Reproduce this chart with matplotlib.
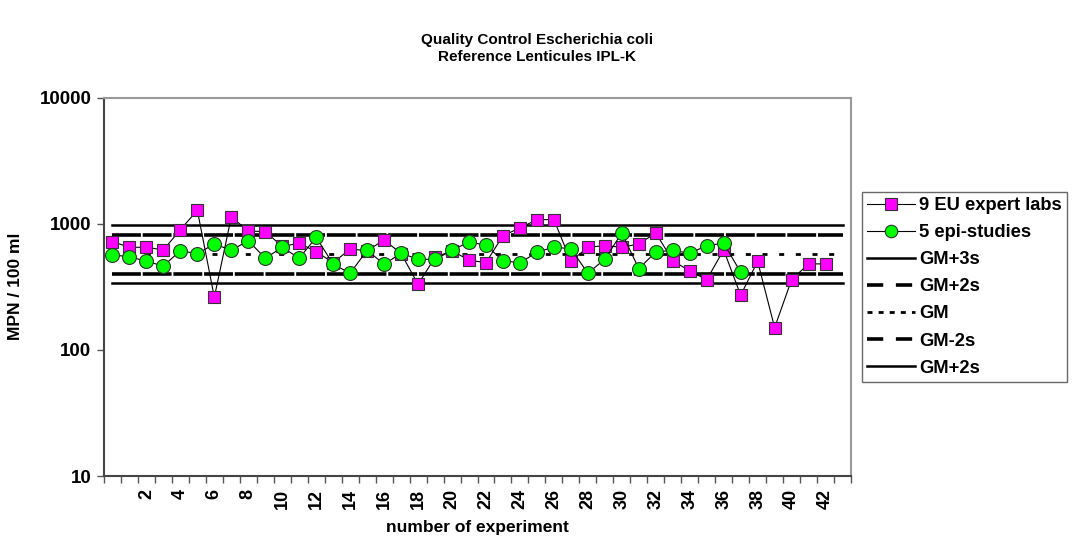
import numpy as np
import matplotlib
matplotlib.use("Agg")
import matplotlib.pyplot as plt
from matplotlib.lines import Line2D

# Werte
eu_labs = [720, 650, 650, 619, 896, 1277, 261, 1130, 875, 865,
           660, 700, 600, 490, 630, 610, 743, 580, 331, 540,
           610, 513, 491, 804, 925, 1077, 1077, 503, 650, 670,
           650, 690, 844, 509, 421, 360, 619, 271, 503, 150,
           360, 480, 480]
epi_studies = [565, 547, 503, 462, 611, 578, 690, 615, 733, 532,
               650, 532, 780, 477, 405, 615, 477, 582, 523, 520,
               615, 716, 675, 509, 489, 593, 653, 631, 405, 523,
               844, 440, 597, 615, 582, 670, 700, 412]
n_categories = 44
tick_labels = ['2', '4', '6', '8', '10', '12', '14', '16', '18', '20', '22',
               '24', '26', '28', '30', '32', '34', '36', '38', '40', '42']
tick_pos = [2, 4, 6, 8, 10, 12, 14, 16, 18, 20, 22,
            24, 26, 28, 30, 32, 34, 36, 38, 40, 42]

gm = 572
gm_p3s = 977
gm_p2s = 817
gm_m2s = 401
gm_m3s = 336

plt.rcParams['font.family'] = ['Liberation Sans', 'DejaVu Sans']
plt.rcParams['font.weight'] = 'bold'

fig = plt.figure(figsize=(10.74, 5.45), dpi=100)
ax = fig.add_axes([0.0968, 0.1266, 0.6956, 0.6945])

x_ref = [0, n_categories - 1]

ax.plot(x_ref, [gm_p3s, gm_p3s], color='black', lw=1.8, zorder=1)
ax.plot(x_ref, [gm_p2s, gm_p2s], color='black', lw=2.6, linestyle=(0, (8, 0.5)), zorder=1)
ax.plot(x_ref, [gm, gm], color='black', lw=2.0, linestyle=(0, (1.8, 4.2)), zorder=1)
ax.plot(x_ref, [gm_m2s, gm_m2s], color='black', lw=2.6, linestyle=(0, (8, 0.5)), zorder=1)
ax.plot(x_ref, [gm_m3s, gm_m3s], color='black', lw=1.8, zorder=1)

ax.plot(np.arange(len(eu_labs)), eu_labs, color='black', lw=0.8,
        marker='s', markersize=8.5, markerfacecolor='#ff00ff',
        markeredgecolor='#333333', markeredgewidth=0.8, zorder=3)
ax.plot(np.arange(len(epi_studies)), epi_studies, color='black', lw=0.8,
        marker='o', markersize=10, markerfacecolor='#00ff00',
        markeredgecolor='#333333', markeredgewidth=0.8, zorder=4)

ax.set_yscale('log')
ax.set_ylim(10, 10000)
ax.set_xlim(-0.5, n_categories - 0.5)
ax.set_yticks([10, 100, 1000, 10000])
ax.set_yticklabels(['10', '100', '1000', '10000'], fontsize=13.5, fontweight='bold')
ax.yaxis.set_minor_locator(matplotlib.ticker.NullLocator())
ax.tick_params(axis='y', which='major', direction='out', length=5, width=1, color='#555555', pad=4)

ax.set_xticks(tick_pos)
ax.set_xticklabels(tick_labels, rotation=90, fontsize=13, fontweight='bold')
ax.set_xticks(np.arange(n_categories + 1) - 0.5, minor=True)
ax.tick_params(axis='x', which='major', length=0, pad=9)
ax.tick_params(axis='x', which='minor', direction='out', length=5, width=1, color='#555555')

for side in ['top', 'right']:
    ax.spines[side].set_color('#999999')
    ax.spines[side].set_linewidth(1.5)
for side in ['left', 'bottom']:
    ax.spines[side].set_color('#444444')
    ax.spines[side].set_linewidth(1.5)

ax.set_ylabel('MPN / 100 ml', fontsize=12.5, fontweight='bold', labelpad=12)
ax.set_xlabel('number of experiment', fontsize=12.5, fontweight='bold', labelpad=8)

fig.text(0.5, 1 - 40 / 545, 'Quality Control Escherichia coli', ha='center', va='center',
         fontsize=11, fontweight='bold')
fig.text(0.5, 1 - 57 / 545, 'Reference Lenticules IPL-K', ha='center', va='center',
         fontsize=11, fontweight='bold')

handles = [
    Line2D([], [], color='black', lw=0.8, marker='s', markersize=8.5,
           markerfacecolor='#ff00ff', markeredgecolor='#333333', markeredgewidth=0.8),
    Line2D([], [], color='black', lw=0.8, marker='o', markersize=9,
           markerfacecolor='#00ff00', markeredgecolor='#333333', markeredgewidth=0.8),
    Line2D([], [], color='black', lw=1.8),
    Line2D([], [], color='black', lw=2.6, linestyle=(0, (4.5, 3.5))),
    Line2D([], [], color='black', lw=2.0, linestyle=(0, (1.8, 2.2))),
    Line2D([], [], color='black', lw=2.6, linestyle=(0, (4.5, 3.5))),
    Line2D([], [], color='black', lw=1.8),
]
names = ['9 EU expert labs', '5 epi-studies', 'GM+3s', 'GM+2s', 'GM', 'GM-2s', 'GM+2s']
leg = fig.legend(handles, names, loc='upper left',
                 bbox_to_anchor=(862 / 1074, 1 - 192 / 545),
                 prop={'size': 13.2, 'weight': 'bold'}, frameon=True, fancybox=False,
                 handlelength=2.6, handletextpad=0.25, labelspacing=0.55,
                 borderpad=0.28, borderaxespad=0)
leg.get_frame().set_edgecolor('#444444')
leg.get_frame().set_linewidth(1.0)

fig.savefig('out.png', dpi=100)
